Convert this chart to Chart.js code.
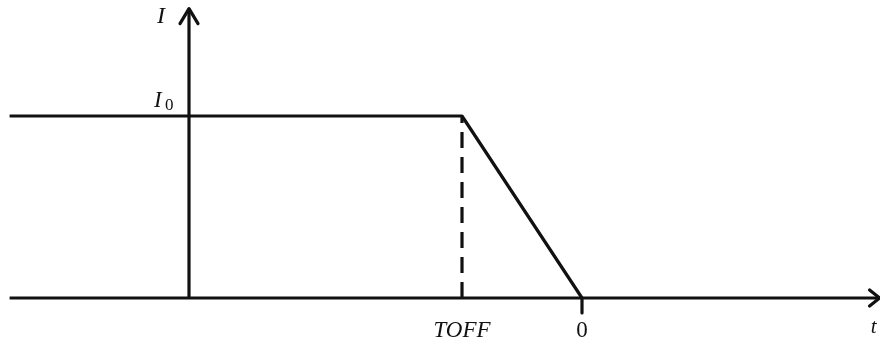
<!DOCTYPE html>
<html>
<head>
<meta charset="utf-8">
<script src="https://cdn.jsdelivr.net/npm/chart.js@4.4.1/dist/chart.umd.min.js"></script>
<style>
  html, body { margin: 0; padding: 0; background: #fff; }
  #wrap { width: 880px; height: 344px; }
</style>
</head>
<body>
<div id="wrap"><canvas id="c" width="880" height="344"></canvas></div>
<script>
// Current waveform: constant I0 until TOFF, then a linear ramp down to zero at t = 0
const timePoints = [-4.77, -1, 0];
const currentValues = [1, 1, 0];

// Axis geometry (in data units)
const tAxisRange = [-4.77, 2.48];
const iAxisAt = -3.275;
const iAxisTop = 1.59;
const toffTime = -1;

// Tick labels along the time axis
const tickTimes = [-1, 0];
const tickLabels = ['TOFF', '0'];

const INK = '#111';

const waveform = timePoints.map((t, i) => ({ x: t, y: currentValues[i] }));

const annotate = {
  id: 'annotate',
  afterDatasetsDraw(chart) {
    const { ctx } = chart;
    const xs = chart.scales.x, ys = chart.scales.y;
    ctx.save();
    ctx.strokeStyle = INK;
    ctx.fillStyle = INK;
    ctx.lineWidth = 3.2;
    ctx.lineCap = 'round';
    ctx.lineJoin = 'round';

    // arrowhead at the top of the current axis
    const ax = xs.getPixelForValue(iAxisAt), ay = ys.getPixelForValue(iAxisTop);
    ctx.beginPath();
    ctx.moveTo(ax - 9, ay + 15);
    ctx.lineTo(ax, ay);
    ctx.lineTo(ax + 9, ay + 15);
    ctx.stroke();

    // arrowhead at the right end of the time axis
    const bx = xs.getPixelForValue(tAxisRange[1]), by = ys.getPixelForValue(0);
    ctx.beginPath();
    ctx.moveTo(bx - 10, by - 8);
    ctx.lineTo(bx, by);
    ctx.lineTo(bx - 10, by + 8);
    ctx.stroke();

    // tick mark below the axis at t = 0
    const zx = xs.getPixelForValue(0);
    ctx.beginPath();
    ctx.moveTo(zx, by);
    ctx.lineTo(zx, by + 15);
    ctx.stroke();

    // text labels
    ctx.textBaseline = 'alphabetic';
    ctx.textAlign = 'center';
    ctx.font = 'italic 24px "Liberation Serif", "DejaVu Serif", serif';
    ctx.fillText('I', ax - 28, 23);

    // I0 label beside the plateau level
    const iy = ys.getPixelForValue(currentValues[0]);
    ctx.textAlign = 'left';
    ctx.font = 'italic 23px "Liberation Serif", serif';
    ctx.fillText('I', ax - 35, iy - 9);
    ctx.font = '17px "Liberation Serif", serif';
    ctx.fillText('0', ax - 24, iy - 6);

    // tick labels on the time axis
    ctx.textAlign = 'center';
    tickTimes.forEach((t, i) => {
      const px = xs.getPixelForValue(t);
      ctx.font = (i === 0 ? 'italic ' : '') + '23px "Liberation Serif", serif';
      ctx.fillText(tickLabels[i], px, by + 39);
    });

    // axis name for time
    ctx.font = 'italic 21px "Liberation Serif", serif';
    ctx.fillText('t', bx - 6, by + 35);
    ctx.restore();
  }
};

new Chart(document.getElementById('c'), {
  type: 'scatter',
  data: {
    datasets: [
      {
        label: 'time axis',
        data: [{ x: tAxisRange[0], y: 0 }, { x: tAxisRange[1], y: 0 }],
        showLine: true, borderColor: INK, borderWidth: 3.2, pointRadius: 0
      },
      {
        label: 'current axis',
        data: [{ x: iAxisAt, y: 0 }, { x: iAxisAt, y: iAxisTop }],
        showLine: true, borderColor: INK, borderWidth: 3.2, pointRadius: 0
      },
      {
        label: 'TOFF marker',
        data: [{ x: toffTime, y: 0 }, { x: toffTime, y: currentValues[1] }],
        showLine: true, borderColor: INK, borderWidth: 3.2, pointRadius: 0,
        borderDash: [16, 9]
      },
      {
        label: 'I(t)',
        data: waveform,
        showLine: true, borderColor: INK, borderWidth: 3.2, pointRadius: 0,
        borderJoinStyle: 'round'
      }
    ]
  },
  options: {
    responsive: false,
    animation: false,
    devicePixelRatio: 1,
    layout: { padding: 0 },
    plugins: { legend: { display: false }, tooltip: { enabled: false } },
    scales: {
      x: { type: 'linear', min: -4.85, max: 2.4833, display: false },
      y: { type: 'linear', min: -46 / 182, max: 298 / 182, display: false }
    }
  },
  plugins: [annotate]
});
</script>
</body>
</html>
